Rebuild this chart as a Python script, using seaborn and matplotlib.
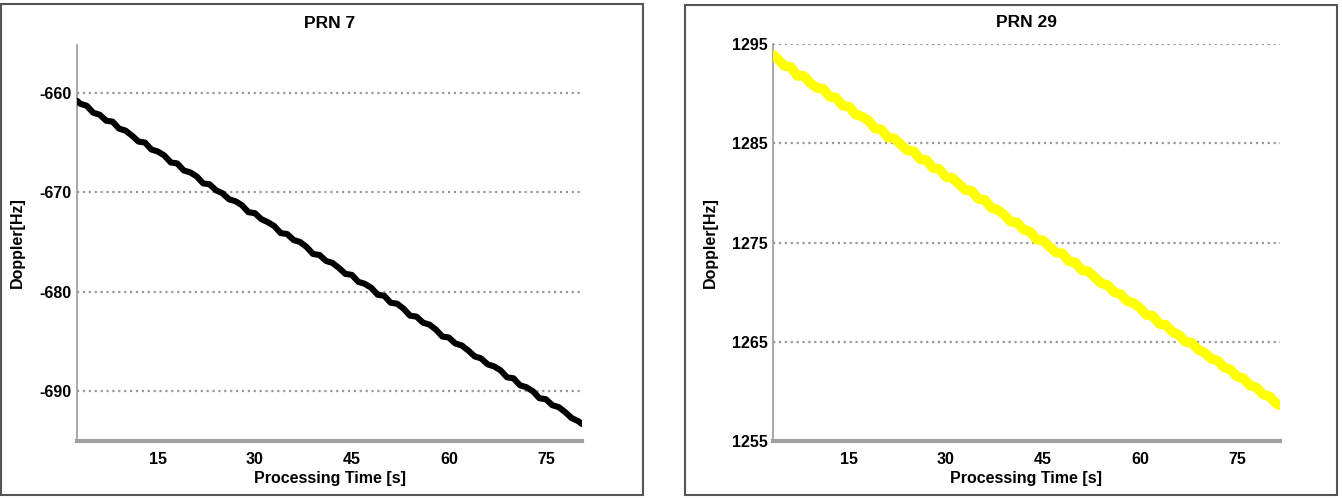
import numpy as np
import pandas as pd
import seaborn as sns
import matplotlib.pyplot as plt
from matplotlib.patches import Rectangle

# --- DATA ---
prn7_time = [2.5] + list(range(3, 81)) + [80.6]
prn7_doppler = [
    -660.8,
    -661.1, -661.3, -662.0, -662.2, -662.8, -662.9, -663.6, -663.8, -664.3, -664.9,
    -665.0, -665.7, -665.9, -666.3, -667.0, -667.1, -667.8, -668.0, -668.4, -669.1,
    -669.2, -669.8, -670.1, -670.7, -670.9, -671.3, -672.0, -672.1, -672.7, -673.0,
    -673.4, -674.1, -674.2, -674.8, -675.0, -675.5, -676.2, -676.3, -676.9, -677.1,
    -677.6, -678.2, -678.3, -679.0, -679.2, -679.6, -680.3, -680.4, -681.1, -681.2,
    -681.7, -682.4, -682.5, -683.1, -683.3, -683.8, -684.5, -684.6, -685.2, -685.4,
    -685.9, -686.5, -686.7, -687.3, -687.5, -687.9, -688.6, -688.7, -689.4, -689.6,
    -690.0, -690.7, -690.8, -691.4, -691.6, -692.1, -692.7, -693.0,
    -693.3,
]

prn29_time = [3.25] + list(range(4, 82)) + [81.65]
prn29_doppler = [
    1293.9,
    1293.5, 1292.8, 1292.7, 1291.8, 1291.8, 1291.1, 1290.6, 1290.5, 1289.7, 1289.6,
    1288.8, 1288.7, 1287.9, 1287.7, 1287.3, 1286.5, 1286.4, 1285.6, 1285.5, 1284.9,
    1284.3, 1284.2, 1283.4, 1283.3, 1282.5, 1282.4, 1281.6, 1281.5, 1280.9, 1280.3,
    1280.2, 1279.4, 1279.3, 1278.5, 1278.3, 1277.8, 1277.1, 1277.0, 1276.3, 1276.1,
    1275.3, 1275.2, 1274.6, 1274.0, 1273.9, 1273.1, 1273.0, 1272.2, 1272.1, 1271.5,
    1270.9, 1270.7, 1270.0, 1269.8, 1269.1, 1268.9, 1268.4, 1267.7, 1267.6, 1266.8,
    1266.7, 1266.0, 1265.7, 1265.0, 1264.9, 1264.2, 1263.9, 1263.3, 1263.1, 1262.4,
    1262.2, 1261.5, 1261.3, 1260.6, 1260.4, 1259.7, 1259.5, 1258.8,
    1258.6,
]

x_ticks = [15, 30, 45, 60, 75]
prn7_yticks = [-660, -670, -680, -690]
prn29_yticks = [1295, 1285, 1275, 1265, 1255]

# --- STYLE ---
sns.set_theme(style="white")
plt.rcParams['font.family'] = ['Liberation Sans', 'DejaVu Sans']
plt.rcParams['font.weight'] = 'bold'
plt.rcParams['axes.unicode_minus'] = False
plt.rcParams['text.color'] = 'black'
plt.rcParams['axes.labelcolor'] = 'black'
plt.rcParams['xtick.labelcolor'] = 'black'
plt.rcParams['ytick.labelcolor'] = 'black'

fig = plt.figure(figsize=(13.42, 4.98), dpi=100)

# outer frames around each panel
fig.patches.append(Rectangle((0.001, 0.006), 0.478, 0.986, transform=fig.transFigure,
                             fill=False, edgecolor='#555555', linewidth=1.5))
fig.patches.append(Rectangle((0.5104, 0.006), 0.4859, 0.984, transform=fig.transFigure,
                             fill=False, edgecolor='#555555', linewidth=1.5))

ax1 = fig.add_axes([0.0574, 0.1145, 0.3763, 0.795])
ax2 = fig.add_axes([0.5760, 0.1145, 0.3778, 0.797])

panels = [
    (ax1, prn7_time, prn7_doppler, 'black', 4.4, 'PRN 7', prn7_yticks, (-695, -655.2), (2.5, 80.6)),
    (ax2, prn29_time, prn29_doppler, '#ffff00', 7.0, 'PRN 29', prn29_yticks, (1255, 1295), (3.25, 81.65)),
]

for ax, t, d, col, lw, title, yt, ylim, xlim in panels:
    df = pd.DataFrame({'time': t, 'doppler': d})
    sns.lineplot(data=df, x='time', y='doppler', ax=ax, color=col, linewidth=lw, zorder=3)
    ax.set_xlim(*xlim)
    ax.set_ylim(*ylim)
    ax.set_xticks(x_ticks)
    ax.set_yticks(yt)
    ax.tick_params(axis='x', direction='in', length=4, width=1, color='#888888',
                   labelsize=11.5, pad=8)
    ax.tick_params(axis='y', length=0, labelsize=11.5, pad=4)
    for lab in ax.get_xticklabels() + ax.get_yticklabels():
        lab.set_fontweight('bold')
    for s in ['top', 'right']:
        ax.spines[s].set_visible(False)
    ax.spines['left'].set_color('#999999')
    ax.spines['left'].set_linewidth(1.2)
    ax.spines['bottom'].set_color('#a0a0a0')
    ax.spines['bottom'].set_linewidth(3)
    ax.yaxis.grid(True, linestyle=':', color='#999999', linewidth=1.6)
    ax.set_axisbelow(True)
    ax.set_title(title, fontsize=12.5, fontweight='bold', pad=12)
    ax.set_xlabel('Processing Time [s]', fontsize=11.5, fontweight='bold', labelpad=3)
    ax.set_ylabel('Doppler[Hz]', fontsize=11.5, fontweight='bold', labelpad=10)

plt.savefig('out.png', dpi=100)
plt.close()
